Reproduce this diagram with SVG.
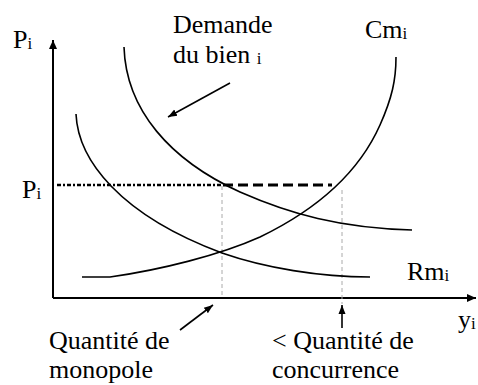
<svg xmlns="http://www.w3.org/2000/svg" width="478" height="385" viewBox="0 0 478 385">
<defs>
<marker id="ah" markerWidth="10" markerHeight="10" refX="9" refY="5" orient="auto" markerUnits="userSpaceOnUse">
<path d="M0,1 L9,5 L0,9 Z" fill="#000"/>
</marker>
<marker id="ah2" markerWidth="10" markerHeight="10" refX="9" refY="5" orient="auto" markerUnits="userSpaceOnUse">
<path d="M0,1.5 L9,5 L0,8.5 Z" fill="#000"/>
</marker>
</defs>
<style>
text{font-family:'Liberation Serif','Times New Roman',Tinos,'Noto Serif','Nimbus Roman','FreeSerif','DejaVu Serif',serif;font-size:26px;fill:#000}
.sub{font-size:17px}
.curve{fill:none;stroke:#000;stroke-width:1.6}
.axis{fill:none;stroke:#000;stroke-width:2}
.guide{fill:none;stroke:#aaa;stroke-width:1;stroke-dasharray:4 3}
.lbl{fill:none;stroke:#000;stroke-width:1.6}
</style>
<rect width="478" height="385" fill="#fff"/>
<g id="axes">
<path class="axis" d="M53,298 L53,40" marker-end="url(#ah)"/>
<path class="axis" d="M53,298 L476,298" marker-end="url(#ah)"/>
</g>
<g id="connectors">
<path d="M57,185 L223,185" fill="none" stroke="#000" stroke-width="2.5" stroke-dasharray="4 2 2 2"/>
<path d="M223,185 L332,185" fill="none" stroke="#000" stroke-width="3" stroke-dasharray="10 5"/>
<path class="guide" d="M222,186 L222,298"/>
<path class="guide" d="M342,190 L342,304"/>
<path class="lbl" d="M230,83 L168,117" marker-end="url(#ah2)"/>
<path class="lbl" d="M180,330 L213,305" marker-end="url(#ah2)"/>
<path class="lbl" d="M342,328 L342,305" marker-end="url(#ah2)"/>
</g>
<g id="demande">
<path class="curve" d="M124,47 C126,110 170,160 240,192 C290,214 340,228 412,230"/>
</g>
<g id="rm">
<path class="curve" d="M76,114 C78,160 120,215 222,253 C265,268 320,277 370,277"/>
</g>
<g id="cm">
<path class="curve" d="M82,277 L110,277 C160,270 220,255 260,237 C320,208 360,170 380,125 C392,98 396,80 396,57"/>
</g>
<g id="labels">
<text x="13" y="48">P<tspan class="sub" dy="1">i</tspan></text>
<text x="22" y="198">P<tspan class="sub" dy="1">i</tspan></text>
<text x="173" y="33">Demande</text>
<text x="173" y="63">du bien <tspan class="sub" dy="1">i</tspan></text>
<text x="365" y="38">Cm<tspan class="sub" dy="1">i</tspan></text>
<text x="407" y="280">Rm<tspan class="sub" dy="1">i</tspan></text>
<text x="458" y="328">y<tspan class="sub" dy="1">i</tspan></text>
<text x="49" y="349">Quantité de</text>
<text x="49" y="378">monopole</text>
<text x="272" y="349">&lt; Quantité de</text>
<text x="272" y="378">concurrence</text>
</g>
</svg>
